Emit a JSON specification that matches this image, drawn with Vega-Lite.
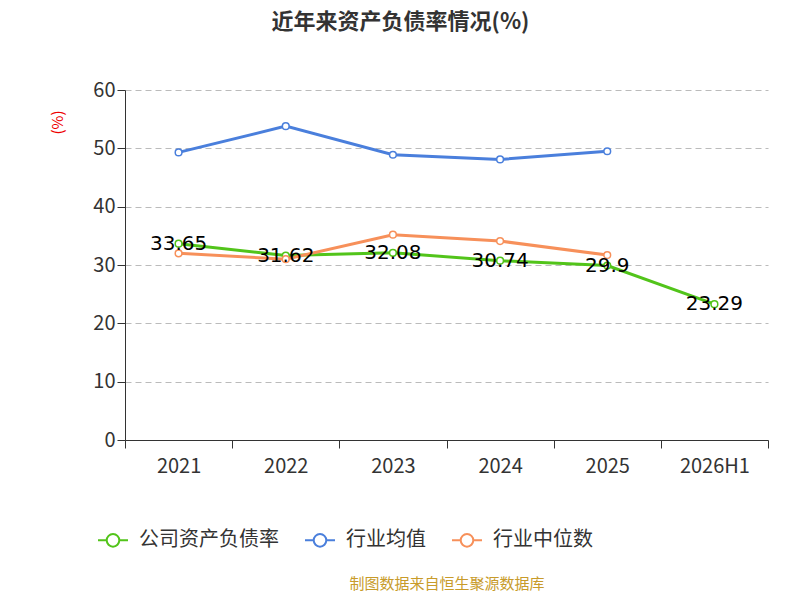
{
  "$schema": "https://vega.github.io/schema/vega-lite/v6.json",
  "width": 643,
  "height": 350,
  "padding": {"left": 125, "top": 90, "right": 32, "bottom": 160},
  "autosize": {"type": "none"},
  "background": "white",
  "title": {"text": "近年来资产负债率情况(%)", "fontSize": 22, "fontWeight": "bold", "color": "#333", "font": "Noto Sans CJK SC", "offset": 46, "dx": -46},
  "config": {"font": "Noto Sans CJK SC", "view": {"stroke": null}},
  "data": {"values": [
    {"year": "2021", "series": "公司资产负债率", "v": 33.65},
    {"year": "2022", "series": "公司资产负债率", "v": 31.62},
    {"year": "2023", "series": "公司资产负债率", "v": 32.08},
    {"year": "2024", "series": "公司资产负债率", "v": 30.74},
    {"year": "2025", "series": "公司资产负债率", "v": 29.9},
    {"year": "2026H1", "series": "公司资产负债率", "v": 23.29},
    {"year": "2021", "series": "行业均值", "v": 49.3},
    {"year": "2022", "series": "行业均值", "v": 53.8},
    {"year": "2023", "series": "行业均值", "v": 48.9},
    {"year": "2024", "series": "行业均值", "v": 48.1},
    {"year": "2025", "series": "行业均值", "v": 49.5},
    {"year": "2021", "series": "行业中位数", "v": 32.0},
    {"year": "2022", "series": "行业中位数", "v": 31.0},
    {"year": "2023", "series": "行业中位数", "v": 35.2},
    {"year": "2024", "series": "行业中位数", "v": 34.1},
    {"year": "2025", "series": "行业中位数", "v": 31.7}
  ]},
  "encoding": {
    "x": {"field": "year", "type": "ordinal", "bandPosition": 0.5,
      "scale": {"type": "band", "paddingInner": 0, "paddingOuter": 0},
      "axis": {"title": "制图数据来自恒生聚源数据库", "titleColor": "#c89b2a", "titleFontSize": 15, "titleFontWeight": "normal", "titlePadding": 100,
        "labelAngle": 0, "labelFontSize": 20, "labelColor": "#333", "labelPadding": 8, "tickBand": "extent", "tickSize": 8, "domainColor": "#333", "tickColor": "#333"}},
    "y": {"field": "v", "type": "quantitative", "scale": {"domain": [0, 60]},
      "axis": {"tickCount": 6, "title": "(%)", "titleColor": "#e00", "titleFontSize": 15, "titleFontWeight": "normal", "titleAnchor": "end", "titleAngle": -90, "titleX": -60, "titleY": 20,
        "labelFontSize": 20, "labelColor": "#333", "tickSize": 8, "domainColor": "#333", "tickColor": "#333",
        "gridDash": [6, 4], "gridColor": "#bbb"}},
    "color": {"field": "series", "type": "nominal",
      "scale": {"domain": ["公司资产负债率", "行业均值", "行业中位数"], "range": ["#52c41a", "#4a7fdc", "#f7905a"]},
      "legend": {"title": null, "orient": "none", "legendX": -28, "legendY": 434, "direction": "horizontal",
        "symbolType": "M-1,0 L-0.42,0 M0.42,0 L1,0 M0.42,0 A0.42,0.42 0 1 1 -0.42,0 A0.42,0.42 0 1 1 0.42,0",
        "symbolSize": 900, "symbolStrokeWidth": 2, "symbolFillColor": "white", "labelFontSize": 20, "labelColor": "#333", "columnPadding": 22, "labelOffset": 10}}
  },
  "layer": [
    {"mark": {"type": "line", "strokeWidth": 3}},
    {"mark": {"type": "point", "filled": false, "fill": "white", "fillOpacity": 1, "size": 45, "strokeWidth": 1.5, "opacity": 1}},
    {"transform": [{"filter": "datum.series == '公司资产负债率'"}],
      "mark": {"type": "text", "fontSize": 20, "color": "black", "font": "DejaVu Sans"},
      "encoding": {"text": {"field": "v"}, "color": {"value": "black"}}}
  ]
}
